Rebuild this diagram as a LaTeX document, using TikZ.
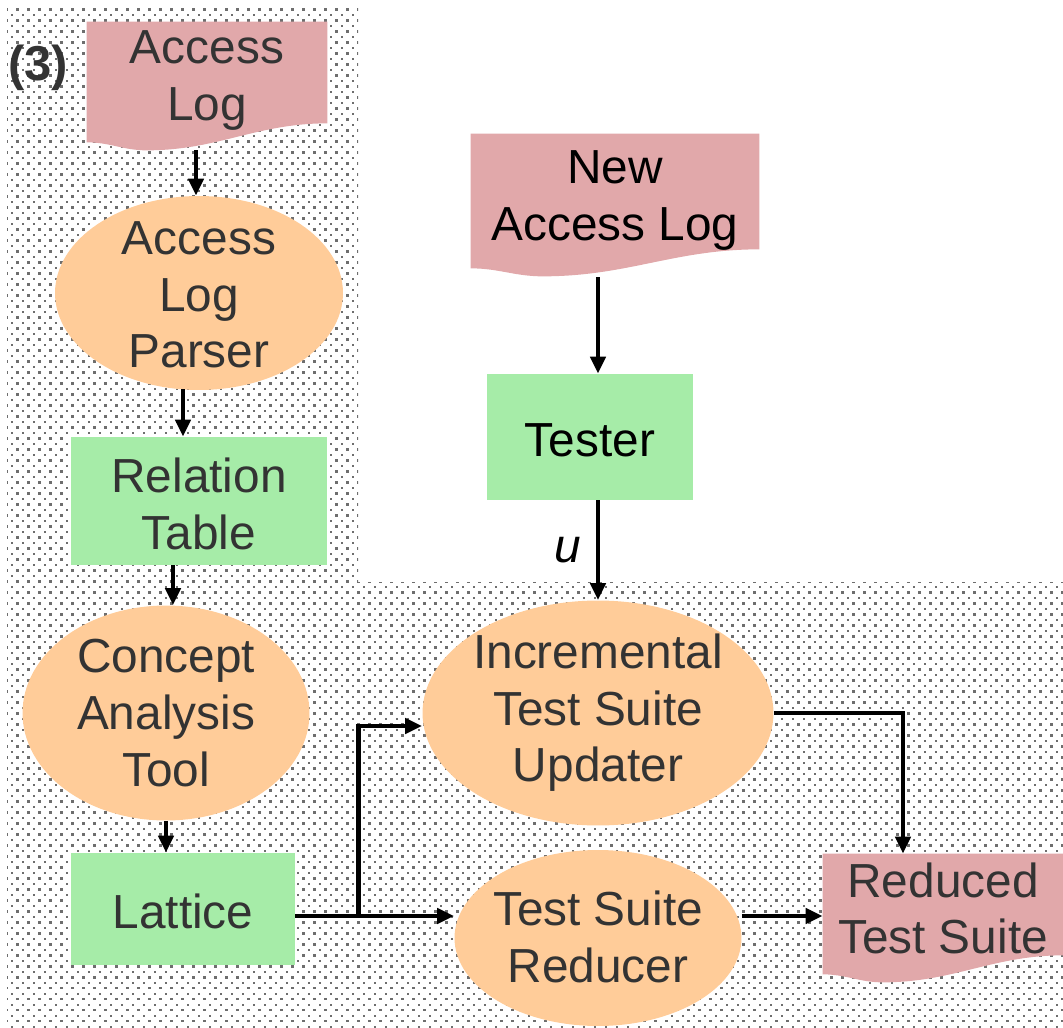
\documentclass[tikz,border=0pt]{standalone}
\usepackage{fontspec}
\setmainfont{Liberation Sans}
\usetikzlibrary{arrows.meta,shapes.geometric,calc,patterns.meta}

\definecolor{docpink}{RGB}{225,168,170}
\definecolor{procorange}{RGB}{255,204,153}
\definecolor{storegreen}{RGB}{166,236,168}
\definecolor{txtgray}{RGB}{51,51,51}
\definecolor{dotgray}{RGB}{110,110,110}

\tikzdeclarepattern{
  name=bgdots,
  type=uncolored,
  bottom left={(-0.1pt,-0.1pt)},
  top right={(6.36pt,6.36pt)},
  tile size={(6.26pt,6.26pt)},
  code={
    \fill (0pt,0pt) rectangle (1.4pt,1.4pt);
    \fill (3.13pt,3.13pt) rectangle (4.53pt,4.53pt);
  }
}

\newcommand{\docfill}[1]{%
  \fill[docpink] (#1.north west) -- (#1.north east) -- ($(#1.south east)+(0,-8)$)
    to[out=180,in=0] ($(#1.south west)!0.25!(#1.south east)+(0,19)$)
    to[out=180,in=0] ($(#1.south west)+(0,11)$) -- cycle;}

\begin{document}
\begin{tikzpicture}[x=0.02cm,y=-0.02cm,
    lbl/.style={font=\fontsize{27.2}{32.2}\selectfont,text=txtgray,align=center,inner sep=0pt},
    proc/.style={ellipse,fill=procorange,inner sep=0pt},
    store/.style={rectangle,fill=storegreen,inner sep=0pt},
    doc/.style={rectangle,inner sep=0pt},
    flow/.style={line width=0.09cm,-{Triangle[length=0.34cm,width=0.3cm]}}]
	\useasboundingbox (0,0) rectangle (1063,1028);
	\fill[pattern={bgdots},pattern color=dotgray] (7,5) -- (358,5) -- (358,582) -- (1063,582) -- (1063,1030) -- (7,1030) -- cycle;

	\node[lbl,font=\fontsize{27.9}{32.4}\selectfont\bfseries] (step) at (38,68) {(3)};

	\node[doc,minimum width=4.8cm,minimum height=2.18cm] (alog) at (207,76.5) {};
	\docfill{alog}
	\node[lbl] at ($(alog)+(0,4)$) {Access\\Log};

	\node[proc,minimum width=5.76cm,minimum height=3.88cm] (parser) at (199,293) {};
	\node[lbl] at (199,295) {Access\\Log\\Parser};

	\node[store,minimum width=5.12cm,minimum height=2.56cm] (relation) at (199,501) {};
	\node[lbl] at (199,504) {Relation\\Table};

	\node[proc,minimum width=5.74cm,minimum height=4.3cm] (concept) at (166,713) {};
	\node[lbl] at (166,713) {Concept\\Analysis\\Tool};

	\node[store,minimum width=4.48cm,minimum height=2.24cm] (lattice) at (183,909) {};
	\node[lbl] at (183,911) {Lattice};

	\node[doc,minimum width=5.76cm,minimum height=2.46cm] (newlog) at (615,195.5) {};
	\docfill{newlog}
	\node[lbl,text=black] at ($(newlog)+(0,5)$) {New\\Access Log};

	\node[store,minimum width=4.14cm,minimum height=2.52cm] (tester) at (590,437) {};
	\node[lbl,text=black] at (590,440) {Tester};

	\node[proc,minimum width=7.02cm,minimum height=4.5cm] (updater) at (598,713) {};
	\node[lbl] at (598,713) {Incremental\\Test Suite\\Updater};

	\node[proc,minimum width=5.74cm,minimum height=3.52cm] (reducer) at (598,938) {};
	\node[lbl] at (598,937) {Test Suite\\Reducer};

	\node[doc,minimum width=4.8cm,minimum height=2.18cm] (redlog) at (943,908.5) {};
	\docfill{redlog}
	\node[lbl] at (redlog) {Reduced\\Test Suite};

	\draw[flow] ($(alog.south)+(-11,19)$) coordinate (ap) -- (ap |- parser.north);
	\draw[flow] ($(parser.south)+(-16,-1)$) coordinate (pr) -- (pr |- relation.north);
	\draw[flow] ($(relation.south)+(-26,0)$) coordinate (rc) -- (rc |- concept.north);
	\draw[flow] (concept.south) -- (concept.south |- lattice.north);
	\draw[flow] ($(newlog.south)+(-17,20)$) coordinate (nt) -- (nt |- tester.north);
	\draw[flow] ($(tester.south)+(8,0)$) coordinate (tu) -- (tu |- updater.north)
		node[lbl,midway,left=0.3cm,text=black,font=\fontsize{27.2}{32.2}\selectfont\itshape] {u};
	\draw[flow] ($(lattice.east)+(0,7)$) coordinate (lt) -- (lt -| reducer.west);
	\coordinate (split) at ($(lt)+(63,0)$);
	\draw[flow] (split) |- ($(updater.west)+(0,13)$);
	\draw[flow] (updater.east) -| ($(redlog.north)+(-40,0)$);
	\draw[flow] (lt -| reducer.east) -- (lt -| redlog.west);
\end{tikzpicture}
\end{document}
